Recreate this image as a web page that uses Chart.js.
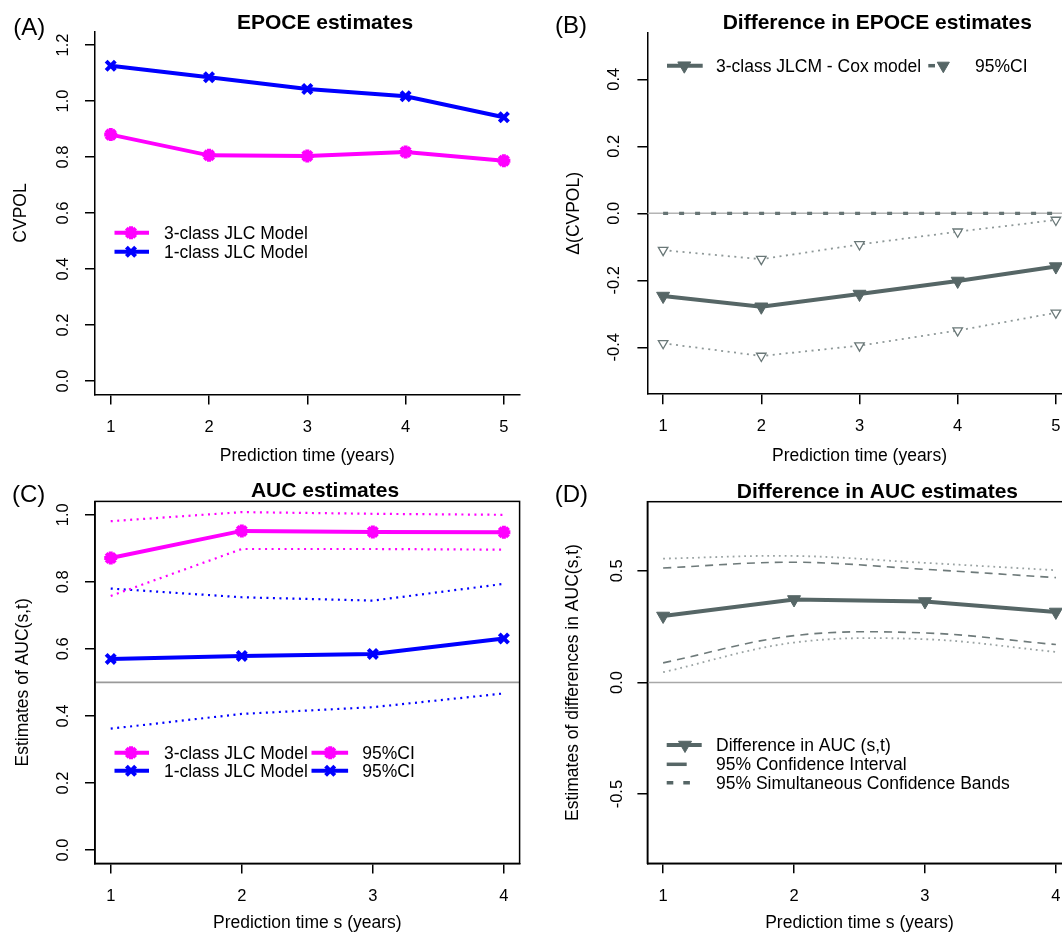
<!DOCTYPE html>
<html>
<head>
<meta charset="utf-8">
<script src="https://cdn.jsdelivr.net/npm/chart.js@4"></script>
<style>
  html, body { margin: 0; padding: 0; background: #fff; }
  #page { position: relative; width: 1062px; height: 933px; overflow: hidden; background: #fff; }
  canvas { position: absolute; }
</style>
</head>
<body>
<div id="page">
  <canvas id="cA" width="531" height="470" style="left:0;top:0"></canvas>
  <canvas id="cB" width="560" height="470" style="left:531px;top:0"></canvas>
  <canvas id="cC" width="531" height="463" style="left:0;top:470px"></canvas>
  <canvas id="cD" width="560" height="463" style="left:531px;top:470px"></canvas>
</div>
<script>
// DATA

const years = [1, 2, 3, 4, 5];
const epoce3 = [0.880, 0.806, 0.804, 0.818, 0.787];
const epoce1 = [1.126, 1.085, 1.043, 1.017, 0.942];

const diffEpoce = [-0.247, -0.279, -0.241, -0.202, -0.159];
const diffEpoceUp = [-0.110, -0.137, -0.093, -0.055, -0.020];
const diffEpoceLo = [-0.388, -0.426, -0.395, -0.350, -0.297];

const times = [1, 2, 3, 4];
const auc3 = [0.871, 0.952, 0.949, 0.948];
const auc3Up = [0.981, 1.008, 1.003, 1.000];
const auc3Lo = [0.758, 0.898, 0.898, 0.896];
const auc1 = [0.570, 0.579, 0.585, 0.631];
const auc1Up = [0.780, 0.754, 0.744, 0.794];
const auc1Lo = [0.362, 0.406, 0.426, 0.467];

const diffAuc = [0.298, 0.372, 0.363, 0.316];
const diffAucCiUp = [0.555, 0.567, 0.536, 0.503];
const diffAucCiLo = [0.046, 0.179, 0.194, 0.137];
const diffAucBandUp = [0.513, 0.539, 0.507, 0.470];
const diffAucBandLo = [0.088, 0.210, 0.222, 0.170];

const ticksA = [0, 0.2, 0.4, 0.6, 0.8, 1.0, 1.2];
const ticksB = [-0.4, -0.2, 0, 0.2, 0.4];
const ticksC = [0, 0.2, 0.4, 0.6, 0.8, 1.0];
const ticksD = [-0.5, 0, 0.5];

// STYLE

const FF = "'Liberation Sans', Arial, Helvetica, sans-serif";
Chart.defaults.font.family = FF;
Chart.defaults.color = '#000';

const PINK = '#ff00ff';
const BLUE = '#0000ff';
const SLATE = '#566666';
const SLATE_LT = '#8e9898';

function pts(xs, ys) {
  return xs.map((x, i) => ({ x: x, y: ys[i] }));
}

function drawMark(ctx, m, x, y) {
  ctx.save();
  ctx.setLineDash([]);
  ctx.lineWidth = m.lw;
  ctx.strokeStyle = m.stroke;
  ctx.fillStyle = m.fill;
  ctx.beginPath();
  const r = m.r;
  if (m.style === 'star' || m.style === 'crossRot') {
    const d = r * Math.SQRT1_2;
    ctx.moveTo(x - d, y - d); ctx.lineTo(x + d, y + d);
    ctx.moveTo(x - d, y + d); ctx.lineTo(x + d, y - d);
    if (m.style === 'star') {
      ctx.moveTo(x - r, y); ctx.lineTo(x + r, y);
      ctx.moveTo(x, y - r); ctx.lineTo(x, y + r);
    }
    ctx.stroke();
  } else if (m.style === 'triangle') {
    let a = Math.PI;
    ctx.moveTo(x + Math.sin(a) * r, y - Math.cos(a) * r);
    a += 2 * Math.PI / 3;
    ctx.lineTo(x + Math.sin(a) * r, y - Math.cos(a) * r);
    a += 2 * Math.PI / 3;
    ctx.lineTo(x + Math.sin(a) * r, y - Math.cos(a) * r);
    ctx.closePath();
    ctx.fill();
    ctx.stroke();
  }
  ctx.restore();
}

// panel letter, title, box, reference lines and legend
const decor = {
  id: 'decor',
  beforeDatasetsDraw(chart, args, o) {
    const { ctx, chartArea: a } = chart;
    const xs = chart.scales.x, ys = chart.scales.y;
    (o.refs || []).forEach(r => {
      const py = ys.getPixelForValue(r.value);
      const x0 = r.from != null ? xs.getPixelForValue(r.from) : a.left;
      ctx.save();
      ctx.beginPath();
      ctx.rect(a.left, a.top, a.right - a.left, a.bottom - a.top);
      ctx.clip();
      ctx.strokeStyle = r.color;
      ctx.lineWidth = r.width;
      ctx.setLineDash(r.dash || []);
      ctx.beginPath();
      ctx.moveTo(x0, py);
      ctx.lineTo(a.right, py);
      ctx.stroke();
      ctx.restore();
    });
  },
  afterDraw(chart, args, o) {
    const { ctx, chartArea: a } = chart;
    ctx.save();
    if (o.box) {
      ctx.strokeStyle = '#000';
      ctx.lineWidth = 1.5;
      ctx.strokeRect(a.left, a.top, a.right - a.left, a.bottom - a.top);
    }
    ctx.fillStyle = '#000';
    ctx.textBaseline = 'middle';
    ctx.textAlign = 'left';
    ctx.font = '24px ' + FF;
    ctx.fillText(o.letter, o.letterAt[0], o.letterAt[1]);
    ctx.textAlign = 'center';
    ctx.font = 'bold 21px ' + FF;
    ctx.fillText(o.title, o.titleAt[0], o.titleAt[1]);

    ctx.textAlign = 'left';
    ctx.font = '17.5px ' + FF;
    o.legend.forEach(k => {
      const ds = chart.data.datasets[k.ds];
      ctx.save();
      ctx.strokeStyle = k.color || ds.borderColor;
      ctx.lineWidth = k.width || ds.borderWidth;
      ctx.setLineDash(k.dash || []);
      ctx.beginPath();
      ctx.moveTo(k.seg[0], k.y);
      ctx.lineTo(k.seg[1], k.y);
      ctx.stroke();
      ctx.restore();
      const m = k.mark === undefined ? {
        style: ds.pointStyle, r: ds.pointRadius, lw: ds.pointBorderWidth,
        stroke: ds.pointBorderColor, fill: ds.pointBackgroundColor
      } : k.mark;
      if (m && k.markX != null) drawMark(ctx, m, k.markX, k.y);
      ctx.fillStyle = '#000';
      ctx.fillText(k.label || ds.label, k.textX, k.y + 1);
    });
    ctx.restore();
  }
};

function makeChart(id, c) {
  const cv = document.getElementById(id);
  const W = cv.width, H = cv.height;
  const a = c.area;
  return new Chart(cv, {
    type: 'line',
    data: { datasets: c.datasets },
    options: {
      responsive: false,
      animation: false,
      events: [],
      layout: { padding: { left: 0, top: a.t, right: W - a.r, bottom: 0 } },
      plugins: {
        legend: { display: false },
        title: { display: false },
        tooltip: { enabled: false },
        decor: c.decor
      },
      scales: {
        x: {
          type: 'linear',
          min: c.xRange[0],
          max: c.xRange[1],
          afterFit: s => { s.height = H - a.b; },
          afterBuildTicks: s => { s.ticks = c.xTicks.map(v => ({ value: v })); },
          grid: { drawOnChartArea: false, drawTicks: true, tickLength: 10, color: '#000', lineWidth: 1.5 },
          border: { display: true, color: '#000', width: 1.5 },
          ticks: {
            autoSkip: false, maxRotation: 0, minRotation: 0, padding: c.xTickPad,
            color: '#000', font: { size: 16.5 }, callback: v => String(v)
          },
          title: {
            display: true, text: c.xTitle, color: '#000',
            font: { size: 17.5, lineHeight: 1 }, padding: { top: 0, bottom: c.xTitlePad }
          }
        },
        y: {
          type: 'linear',
          min: c.yRange[0],
          max: c.yRange[1],
          afterFit: s => { s.width = a.l; },
          afterBuildTicks: s => { s.ticks = c.yTicks.map(v => ({ value: v })); },
          grid: { drawOnChartArea: false, drawTicks: true, tickLength: 10, color: '#000', lineWidth: 1.5 },
          border: { display: true, color: '#000', width: 1.5 },
          ticks: {
            autoSkip: false, minRotation: 90, maxRotation: 90, crossAlign: 'center',
            padding: c.yTickPad, color: '#000', font: { size: 16.5 },
            callback: v => v.toFixed(1)
          },
          title: {
            display: true, text: c.yTitle, color: '#000',
            font: { size: 17.5, lineHeight: 1 }, padding: { top: c.yTitlePad, bottom: 0 }
          }
        }
      }
    },
    plugins: [decor]
  });
}

function mainLine(label, xs, ys, color, style, radius) {
  return {
    label: label, data: pts(xs, ys),
    borderColor: color, borderWidth: 4, tension: 0, fill: false,
    pointStyle: style, pointRadius: radius, pointRotation: style === 'triangle' ? 180 : 0,
    pointBorderColor: color, pointBackgroundColor: color,
    pointBorderWidth: style === 'triangle' ? 1 : 4, pointHoverRadius: radius
  };
}

function thinLine(label, xs, ys, color, width, dash, tension) {
  return {
    label: label, data: pts(xs, ys),
    borderColor: color, borderWidth: width, borderDash: dash, tension: tension || 0,
    fill: false, pointRadius: 0, pointHoverRadius: 0
  };
}

// (A) EPOCE estimates
makeChart('cA', {
  area: { l: 95, t: 31.6, r: 519.6, b: 394.4 },
  xRange: [0.84, 5.16], yRange: [-0.048, 1.248],
  xTicks: years, yTicks: ticksA,
  xTickPad: 13, yTickPad: 10.3, xTitlePad: 5.25, yTitlePad: 12.25,
  xTitle: 'Prediction time (years)', yTitle: 'CVPOL',
  datasets: [
    mainLine('3-class JLC Model', years, epoce3, PINK, 'star', 6.5),
    mainLine('1-class JLC Model', years, epoce1, BLUE, 'crossRot', 6.5)
  ],
  decor: {
    letter: '(A)', letterAt: [13.3, 28.3],
    title: 'EPOCE estimates', titleAt: [325, 23.3],
    legend: [
      { ds: 0, y: 232.7, seg: [114.5, 149], markX: 131, textX: 163.9 },
      { ds: 1, y: 251.7, seg: [114.5, 149], markX: 131, textX: 163.9 }
    ]
  }
});

// (B) Difference in EPOCE estimates
const ciTri = {
  pointStyle: 'triangle', pointRotation: 180, pointRadius: 5.5,
  pointBackgroundColor: '#fff', pointBorderColor: '#6a7878', pointBorderWidth: 1.3
};
makeChart('cB', {
  area: { l: 116.4, t: 32.4, r: 540.6, b: 394.2 },
  xRange: [0.84, 5.16], yRange: [-0.54, 0.54],
  xTicks: years, yTicks: ticksB,
  xTickPad: 12.6, yTickPad: 9, xTitlePad: 5.25, yTitlePad: 34.55,
  xTitle: 'Prediction time (years)', yTitle: '\u0394(CVPOL)',
  datasets: [
    mainLine('3-class JLCM - Cox model', years, diffEpoce, SLATE, 'triangle', 7.5),
    Object.assign(thinLine('95%CI', years, diffEpoceUp, SLATE_LT, 1.8, [2, 4.5]), ciTri),
    Object.assign(thinLine('95%CI', years, diffEpoceLo, SLATE_LT, 1.8, [2, 4.5]), ciTri)
  ],
  decor: {
    letter: '(B)', letterAt: [24, 26],
    title: 'Difference in EPOCE estimates', titleAt: [346.3, 23.3],
    refs: [
      { value: 0, color: '#b4b4b4', width: 1.5 },
      { value: 0, from: 1, color: '#667474', width: 3.2, dash: [5, 11] }
    ],
    legend: [
      { ds: 0, y: 65.7, seg: [136, 171.7], markX: 153.3, textX: 185 },
      { ds: 1, y: 65.7, seg: [397.3, 404], markX: 412.3, textX: 444,
        color: SLATE, width: 3.5,
        mark: { style: 'triangle', r: 7, lw: 1, stroke: SLATE, fill: SLATE } }
    ]
  }
});

// (C) AUC estimates
makeChart('cC', {
  area: { l: 95, t: 31.4, r: 519.6, b: 393.4 },
  xRange: [0.88, 4.12], yRange: [-0.04, 1.04],
  xTicks: times, yTicks: ticksC,
  xTickPad: 13.4, yTickPad: 10.3, xTitlePad: 1.55, yTitlePad: 13.95,
  xTitle: 'Prediction time s (years)', yTitle: 'Estimates of AUC(s,t)',
  datasets: [
    mainLine('3-class JLC Model', times, auc3, PINK, 'star', 6.5),
    thinLine('95%CI', times, auc3Up, PINK, 2.2, [2, 4.5]),
    thinLine('95%CI', times, auc3Lo, PINK, 2.2, [2, 4.5]),
    mainLine('1-class JLC Model', times, auc1, BLUE, 'crossRot', 6.5),
    thinLine('95%CI', times, auc1Up, BLUE, 2.2, [2, 4.5]),
    thinLine('95%CI', times, auc1Lo, BLUE, 2.2, [2, 4.5])
  ],
  decor: {
    letter: '(C)', letterAt: [11.9, 25],
    title: 'AUC estimates', titleAt: [325, 21.7],
    box: true,
    refs: [{ value: 0.5, color: '#9a9a9a', width: 1.6 }],
    legend: [
      { ds: 0, y: 282.7, seg: [114.5, 149], markX: 131, textX: 163.9 },
      { ds: 3, y: 300.7, seg: [114.5, 149], markX: 131, textX: 163.9 },
      { ds: 1, y: 282.7, seg: [311.5, 348.1], markX: 330.2, textX: 362.3, width: 4,
        mark: { style: 'star', r: 6.5, lw: 4, stroke: PINK, fill: PINK } },
      { ds: 4, y: 300.7, seg: [311.5, 348.1], markX: 330.2, textX: 362.3, width: 4,
        mark: { style: 'crossRot', r: 6.5, lw: 4, stroke: BLUE, fill: BLUE } }
    ]
  }
});

// (D) Difference in AUC estimates
makeChart('cD', {
  area: { l: 116.4, t: 31.7, r: 540.6, b: 393.3 },
  xRange: [0.88, 4.12], yRange: [-0.81, 0.81],
  xTicks: times, yTicks: ticksD,
  xTickPad: 13.5, yTickPad: 5.3, xTitlePad: 0.95, yTitlePad: 33.55,
  xTitle: 'Prediction time s (years)', yTitle: 'Estimates of differences in AUC(s,t)',
  datasets: [
    mainLine('Difference in AUC (s,t)', times, diffAuc, SLATE, 'triangle', 7.5),
    thinLine('95% Confidence Interval', times, diffAucCiUp, '#9aa3a3', 1.8, [1.8, 4], 0.35),
    thinLine('95% Confidence Interval', times, diffAucCiLo, '#9aa3a3', 1.8, [1.8, 4], 0.35),
    thinLine('95% Simultaneous Confidence Bands', times, diffAucBandUp, '#6e7a7a', 1.6, [8, 6], 0.35),
    thinLine('95% Simultaneous Confidence Bands', times, diffAucBandLo, '#6e7a7a', 1.6, [8, 6], 0.35)
  ],
  decor: {
    letter: '(D)', letterAt: [23.7, 25],
    title: 'Difference in AUC estimates', titleAt: [346.4, 22.7],
    box: true,
    refs: [{ value: 0, color: '#a8a8a8', width: 1.5 }],
    legend: [
      { ds: 0, y: 275, seg: [135.7, 170.7], markX: 154, textX: 185 },
      { ds: 1, y: 294.3, seg: [135.7, 155.7], textX: 185, color: SLATE, width: 3.5, mark: null },
      { ds: 3, y: 312.7, seg: [135.7, 159], textX: 185, color: SLATE, width: 3.5, dash: [6.6, 10], mark: null }
    ]
  }
});
</script>
</body>
</html>
